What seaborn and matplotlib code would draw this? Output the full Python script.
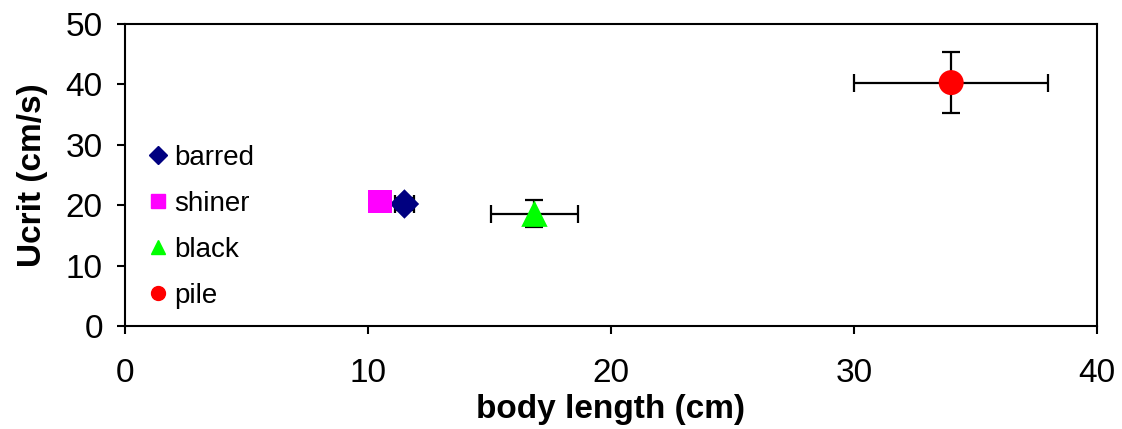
import matplotlib
matplotlib.use("Agg")
import matplotlib.pyplot as plt
import seaborn as sns
import pandas as pd
from matplotlib.lines import Line2D

# Species measurements: mean body length and critical swimming speed
species = ["barred", "shiner", "black", "pile"]
body_length = [11.5, 10.5, 16.85, 34.0]
body_length_err = [0.4, 0.0, 1.8, 4.0]
ucrit = [20.2, 20.6, 18.6, 40.3]
ucrit_err = [1.0, 0.0, 2.2, 5.0]

colors = {"barred": "#000080", "shiner": "#FF00FF", "black": "#00FF00", "pile": "#FF0000"}
markers = {"barred": "D", "shiner": "s", "black": "^", "pile": "o"}
sizes = {"barred": 15, "shiner": 17, "black": 19, "pile": 18}

df = pd.DataFrame({"species": species, "length": body_length, "length_err": body_length_err,
                   "ucrit": ucrit, "ucrit_err": ucrit_err})

sns.set_style("ticks")
plt.rcParams["font.family"] = ["Liberation Sans", "DejaVu Sans"]
plt.rcParams["text.color"] = "black"
plt.rcParams["axes.labelcolor"] = "black"

fig = plt.figure(figsize=(11.22, 4.29), dpi=100)
ax = fig.add_axes([0.1114, 0.2401, 0.8663, 0.7039])

# error bars behind the markers
for _, r in df.iterrows():
    if r["length_err"] > 0 or r["ucrit_err"] > 0:
        ax.errorbar(r["length"], r["ucrit"], xerr=r["length_err"], yerr=r["ucrit_err"],
                    fmt="none", ecolor="black", elinewidth=1.6, capsize=6.5, capthick=1.6, zorder=1)

for sp in species:
    sub = df[df["species"] == sp]
    sns.scatterplot(data=sub, x="length", y="ucrit", ax=ax, marker=markers[sp],
                    color=colors[sp], s=sizes[sp] ** 2, edgecolor="none", zorder=3, legend=False)

ax.set_xlim(0, 40)
ax.set_ylim(0, 50)
ax.set_xticks(range(0, 41, 10))
ax.set_yticks(range(0, 51, 10))
ax.tick_params(direction="out", length=6, width=1.5, labelsize=24, colors="black")
ax.tick_params(axis="x", pad=17)
ax.tick_params(axis="y", pad=10)
for s in ax.spines.values():
    s.set_visible(True)
    s.set_linewidth(1.5)
    s.set_color("black")

ax.set_xlabel("body length (cm)", fontsize=24, fontweight="bold", labelpad=4)
ax.set_ylabel("Ucrit (cm/s)", fontsize=24, fontweight="bold", labelpad=13)

handles = [Line2D([], [], linestyle="none", marker=markers[sp], color=colors[sp],
                  markersize=10 if sp != "barred" else 9, label=sp) for sp in species]
ax.legend(handles=handles, loc="upper left", bbox_to_anchor=(0.025, 0.60), frameon=False,
          fontsize=20, handlelength=0.6, handletextpad=0.3, labelspacing=0.72, borderaxespad=0,
          borderpad=0)

fig.savefig("out.png", dpi=100)
